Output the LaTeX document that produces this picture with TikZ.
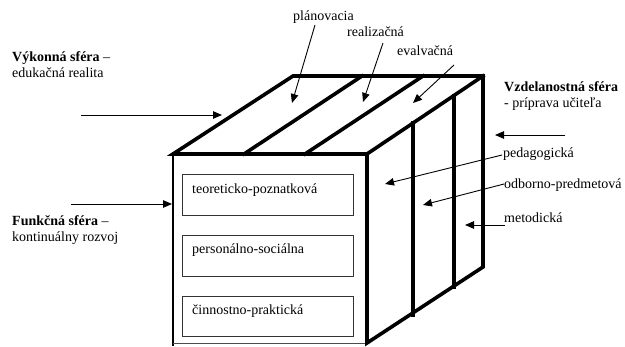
\documentclass[tikz,border=0pt]{standalone}
\usepackage{fontspec}
\setmainfont{Liberation Serif}
\usetikzlibrary{arrows.meta}
\tikzset{
  lbl/.style={inner sep=0pt, anchor=base west, font=\fontsize{14}{16}\selectfont},
  thickedge/.style={line width=3.6pt, line join=miter, line cap=rect},
  thinarrow/.style={line width=0.9pt, -{Triangle[length=9pt,width=7.5pt]}},
  innerbox/.style={draw=black!80, line width=0.9pt}
}
\begin{document}
\begin{tikzpicture}[x=1pt,y=-1pt]
\useasboundingbox (0,0) rectangle (625,347);
% cube corners
\coordinate (A) at (173,154);
\coordinate (B) at (367,154);
\coordinate (C) at (483,76);
\coordinate (D) at (293,76);
\coordinate (E) at (483,267);
\coordinate (F) at (367,343);
\coordinate (G) at (173,343);
% front face thin edges
\draw[line width=2pt] (173,152) -- (173,346);
\draw[black!70, line width=0.8pt] (G) -- (F);
% thick edges
\draw[thickedge] (A) -- (D) -- (C) -- (E) -- (F) -- (B) -- cycle;
\draw[thickedge] (B) -- (C);
% top dividers
\draw[thickedge] (244,154) -- (362,76);
\draw[thickedge] (305,154) -- (423,76);
% right dividers
\draw[thickedge] (413,123) -- (413,315);
\draw[thickedge] (454,96) -- (454,287);
% inner boxes
\draw[innerbox] (182,174) rectangle (353,215);
\draw[innerbox] (182,235) rectangle (353,276);
\draw[innerbox] (182,296) rectangle (353,336);
\node[lbl] (t1) at (192,194) {teoreticko-poznatková};
\node[lbl] (t2) at (192,254) {personálno-sociálna};
\node[lbl] (t3) at (192,315) {činnostno-praktická};
% left labels
\node[lbl] (vyk1) at (12,62) {\textbf{Výkonná sféra} –};
\node[lbl] (vyk2) at (12,78) {edukačná realita};
\node[lbl] (fun1) at (12,226) {\textbf{Funkčná sféra} –};
\node[lbl] (fun2) at (12,242) {kontinuálny rozvoj};
% right labels
\node[lbl] (vzd1) at (504,92) {\textbf{Vzdelanostná sféra}};
\node[lbl] (vzd2) at (504,108) {- príprava učiteľa};
\node[lbl] (ped) at (503,158) {pedagogická};
\node[lbl] (odb) at (504,189) {odborno-predmetová};
\node[lbl] (met) at (504,223) {metodická};
% top labels
\node[lbl] (plan) at (293,21) {plánovacia};
\node[lbl] (real) at (347,37) {realizačná};
\node[lbl] (eval) at (397,56) {evalvačná};
% arrow coordinates
\coordinate (vykS) at (81,115);  \coordinate (vykE) at (222,115);
\coordinate (funS) at (71,204);  \coordinate (funE) at (172,204);
\coordinate (vzdS) at (565,135); \coordinate (vzdE) at (495,135);
\coordinate (planS) at (315,25); \coordinate (planE) at (292,103);
\coordinate (realS) at (383,43); \coordinate (realE) at (363,102);
\coordinate (evalS) at (454,65); \coordinate (evalE) at (413,103);
\coordinate (pedS) at (502,155); \coordinate (pedE) at (385,184);
\coordinate (odbS) at (504,184); \coordinate (odbE) at (423,205);
\coordinate (metS) at (505,225); \coordinate (metE) at (465,225);
\draw[thinarrow] (vykS) -- (vykE);
\draw[thinarrow] (funS) -- (funE);
\draw[thinarrow] (vzdS) -- (vzdE);
\draw[thinarrow] (planS) -- (planE);
\draw[thinarrow] (realS) -- (realE);
\draw[thinarrow] (evalS) -- (evalE);
\draw[thinarrow] (pedS) -- (pedE);
\draw[thinarrow] (odbS) -- (odbE);
\draw[thinarrow] (metS) -- (metE);
\end{tikzpicture}
\end{document}
